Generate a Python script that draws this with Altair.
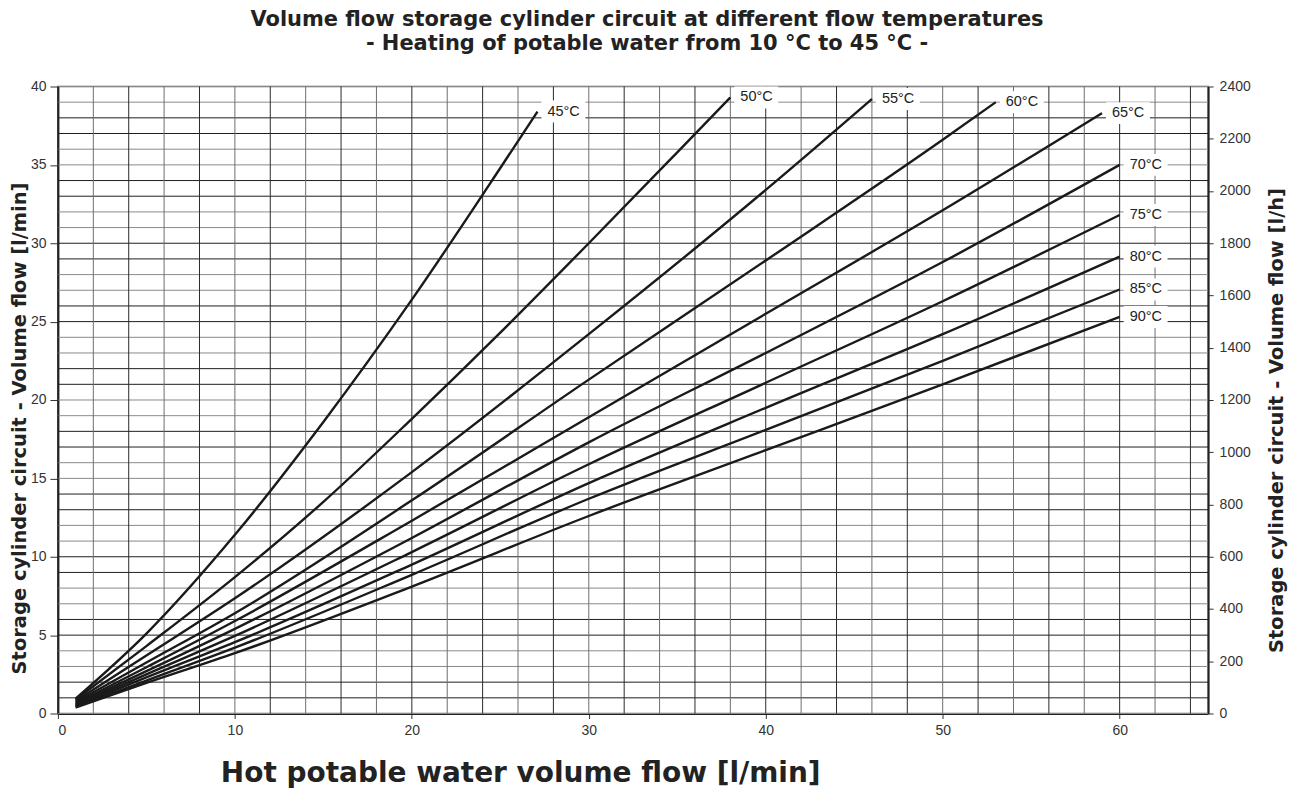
import altair as alt
import pandas as pd

FONT = "Liberation Sans"
TFONT = "DejaVu Sans"

# ---- curve data ----
TEMPS = ["45°C", "50°C", "55°C", "60°C", "65°C", "70°C", "75°C", "80°C", "85°C", "90°C"]

X_45 = [1, 5, 10, 15, 20, 25, 27.1]
Y_45 = [0.95, 5.1, 11.4, 18.6, 26.4, 34.8, 38.4]

X_50 = [1, 5, 10, 15, 20, 25, 30, 35, 38]
Y_50 = [0.88, 4.3, 8.7, 13.5, 18.8, 24.3, 30.0, 35.8, 39.3]

X_55 = [1, 5, 10, 20, 30, 40, 46]
Y_55 = [0.8, 3.7, 7.35, 15.4, 24.2, 33.4, 39.2]

X_60 = [1, 5, 10, 20, 30, 40, 50, 53]
Y_60 = [0.72, 3.25, 6.4, 13.6, 21.3, 28.9, 36.6, 39.0]

X_65 = [1, 5, 10, 20, 30, 40, 50, 59]
Y_65 = [0.64, 2.95, 5.9, 12.3, 18.9, 25.5, 32.1, 38.3]

X_70 = [1, 5, 10, 20, 30, 40, 50, 60]
Y_70 = [0.58, 2.7, 5.4, 11.2, 17.3, 23.0, 28.8, 35.0]

X_75 = [1, 5, 10, 20, 30, 40, 50, 60]
Y_75 = [0.52, 2.5, 4.95, 10.3, 15.9, 21.1, 26.3, 31.8]

X_80 = [1, 5, 10, 20, 30, 40, 50, 60]
Y_80 = [0.47, 2.3, 4.55, 9.5, 14.7, 19.5, 24.2, 29.15]

X_85 = [1, 5, 10, 20, 30, 40, 50, 60]
Y_85 = [0.42, 2.1, 4.2, 8.85, 13.7, 18.1, 22.5, 27.05]

X_90 = [1, 5, 10, 20, 30, 40, 50, 60]
Y_90 = [0.38, 1.95, 3.85, 8.1, 12.6, 16.8, 21.0, 25.3]

SERIES = [
    (TEMPS[0], X_45, Y_45), (TEMPS[1], X_50, Y_50), (TEMPS[2], X_55, Y_55),
    (TEMPS[3], X_60, Y_60), (TEMPS[4], X_65, Y_65), (TEMPS[5], X_70, Y_70),
    (TEMPS[6], X_75, Y_75), (TEMPS[7], X_80, Y_80), (TEMPS[8], X_85, Y_85),
    (TEMPS[9], X_90, Y_90),
]

# ---- axis ticks / grid ----
X_TICKS = [0, 10, 20, 30, 40, 50, 60]
Y_TICKS = [0, 5, 10, 15, 20, 25, 30, 35, 40]
RIGHT_TICKS = [0, 200, 400, 600, 800, 1000, 1200, 1400, 1600, 1800, 2000, 2200, 2400]
GRID_X = list(range(0, 65, 2))
GRID_Y = list(range(0, 41))

TITLE = ["Volume flow storage cylinder circuit at different flow temperatures",
         "- Heating of potable water from 10 °C to 45 °C -"]
X_TITLE = "Hot potable water volume flow [l/min]"
Y_TITLE = "Storage cylinder circuit - Volume flow [l/min]"
Y2_TITLE = "Storage cylinder circuit - Volume flow [l/h]"

# ---- build tables ----
rows = []
for name, xs, ys in SERIES:
    for i, (x, y) in enumerate(zip(xs, ys)):
        rows.append({"temp": name, "x": x, "y": y, "order": i})
df_lines = pd.DataFrame(rows)
df_labels = pd.DataFrame([{"temp": n, "x": xs[-1], "y": ys[-1]} for n, xs, ys in SERIES])

df_gy = pd.DataFrame({"y": GRID_Y,
                      "shade": ["#1e1e1e" if (v % 4) in (1, 2) else "#8a8a8a" for v in GRID_Y]})
df_gx = pd.DataFrame({"x": GRID_X,
                      "shade": ["#2a2a2a" if (v // 2) % 2 == 0 else "#6e6e6e" for v in GRID_X]})
df_right = pd.DataFrame({"lh": RIGHT_TICKS})

xscale = alt.Scale(domain=[0, 65], nice=False, zero=False)
yscale = alt.Scale(domain=[0, 40], nice=False, zero=False)

AX_X = alt.Axis(values=X_TICKS, title=X_TITLE, grid=False,
                tickSize=5, tickColor="#333", labelPadding=5,
                labelFontSize=14, labelFont=FONT, labelColor="#333",
                domainColor="#222", domainWidth=2,
                titleFont=TFONT, titleFontSize=28, titleFontWeight="bold",
                titleColor="#222", titleX=463, titleY=60,
                titleBaseline="middle", titleAlign="center")
AX_Y = alt.Axis(values=Y_TICKS, title=Y_TITLE, grid=False,
                tickSize=8, tickColor="#333", labelPadding=4,
                labelFontSize=14, labelFont=FONT, labelColor="#333",
                domainColor="#222", domainWidth=2,
                titleFont=TFONT, titleFontSize=19.5, titleFontWeight="bold",
                titleColor="#222", titleX=-38, titleY=342, titleAngle=270,
                titleBaseline="middle", titleAlign="center")

grid_h = alt.Chart(df_gy).mark_rule(strokeWidth=1).encode(
    y=alt.Y("y:Q", scale=yscale, axis=AX_Y),
    color=alt.Color("shade:N", scale=None),
)
grid_v = alt.Chart(df_gx).mark_rule(strokeWidth=1).encode(
    x=alt.X("x:Q", scale=xscale, axis=AX_X),
    color=alt.Color("shade:N", scale=None),
)

lines = alt.Chart(df_lines).mark_line(color="#1a1a1a", strokeWidth=2.4,
                                      interpolate="monotone").encode(
    x=alt.X("x:Q", scale=xscale, axis=AX_X),
    y=alt.Y("y:Q", scale=yscale, axis=AX_Y),
    detail="temp:N",
    order="order:Q",
)

boxes = alt.Chart(df_labels).mark_point(
    shape="M-1,-0.5L1,-0.5L1,0.5L-1,0.5Z", filled=True, fill="white",
    opacity=1, strokeWidth=0, size=1936, xOffset=26,
).encode(x=alt.X("x:Q", scale=xscale, axis=AX_X),
         y=alt.Y("y:Q", scale=yscale, axis=AX_Y))

labels = alt.Chart(df_labels).mark_text(
    align="left", baseline="middle", dx=10, fontSize=14.5, font=FONT, color="#222",
).encode(x=alt.X("x:Q", scale=xscale, axis=AX_X),
         y=alt.Y("y:Q", scale=yscale, axis=AX_Y),
         text="temp:N")

main = alt.layer(grid_h, grid_v, lines, boxes, labels)

right = alt.Chart(df_right).mark_tick(opacity=0).encode(
    y=alt.Y("lh:Q", scale=alt.Scale(domain=[0, 2400], nice=False, zero=False),
            axis=alt.Axis(orient="right", values=RIGHT_TICKS, format="d", title=Y2_TITLE,
                          grid=False, tickSize=5, tickColor="#333", labelPadding=6,
                          labelFontSize=14, labelFont=FONT, labelColor="#333",
                          domainColor="#222", domainWidth=2,
                          titleFont=TFONT, titleFontSize=19.5, titleFontWeight="bold",
                          titleColor="#222", titleX=68, titleY=334, titleAngle=270,
                          titleBaseline="middle", titleAlign="center")),
)

chart = alt.layer(main, right).resolve_scale(y="independent").properties(
    width=1152, height=628,
    title=alt.TitleParams(text=TITLE, font=TFONT, fontSize=21, fontWeight="bold",
                          color="#222", anchor="middle", offset=26, dx=14,
                          lineHeight=24),
    autosize=alt.AutoSizeParams(type="none"),
    padding={"left": 50, "top": 78, "right": 80, "bottom": 77},
).configure_view(stroke="#666", strokeWidth=1.5)

chart.save("out.html", embed_options={"renderer": "svg", "actions": False})
